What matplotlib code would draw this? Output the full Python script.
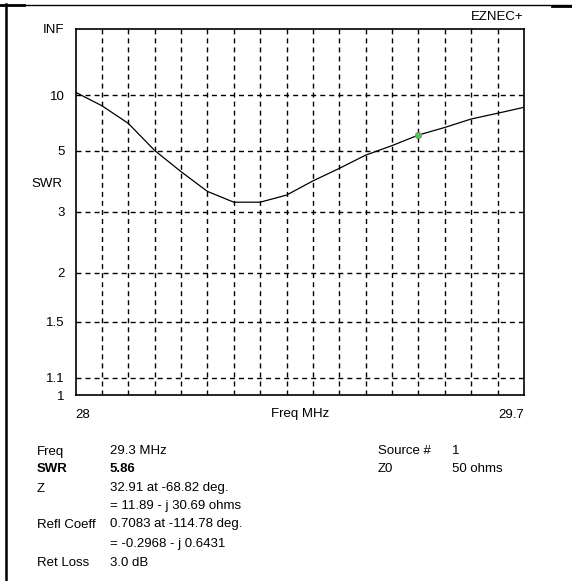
import numpy as np
import matplotlib
matplotlib.use("Agg")
import matplotlib.pyplot as plt
from matplotlib.lines import Line2D

plt.rcParams['font.family'] = ['Liberation Sans', 'DejaVu Sans']

freq_mhz = [28.0, 28.1, 28.2, 28.3, 28.4, 28.5, 28.6, 28.7, 28.8,
            28.9, 29.0, 29.1, 29.2, 29.3, 29.4, 29.5, 29.6, 29.7]
swr = [10.5, 8.49, 6.73, 5.01, 4.12, 3.50, 3.22, 3.22, 3.40,
       3.81, 4.24, 4.79, 5.26, 5.88, 6.41, 7.10, 7.65, 8.30]

swr_ticks = [1.1, 1.5, 2, 3, 5, 10]
swr_tick_labels = ["1.1", "1.5", "2", "3", "5", "10"]
freq_grid = [28.1, 28.2, 28.3, 28.4, 28.5, 28.6, 28.7, 28.8, 28.9,
             29.0, 29.1, 29.2, 29.3, 29.4, 29.5, 29.6]

cursor_freq = 29.3
cursor_swr = 5.86

info_left = [("Freq", "29.3 MHz", False),
             ("SWR", "5.86", True),
             ("Z", "32.91 at -68.82 deg.", False),
             ("", "= 11.89 - j 30.69 ohms", False),
             ("Refl Coeff", "0.7083 at -114.78 deg.", False),
             ("", "= -0.2968 - j 0.6431", False),
             ("Ret Loss", "3.0 dB", False)]
info_right = [("Source #", "1"), ("Z0", "50 ohms")]


def rho(s):
    # EZNEC plots SWR on a reflection coefficient scale
    s = np.asarray(s, dtype=float)
    return (s - 1) / (s + 1)


W, H = 572, 581


def fx(x):
    return x / W


def fy(y):
    return 1 - y / H


FS = 9.5
fig = plt.figure(figsize=(W / 100, H / 100), dpi=100)
ax = fig.add_axes([fx(75.5), fy(395), (524 - 75.5) / W, (395 - 28.5) / H])

ax.plot(freq_mhz, rho(swr), color='black', lw=0.9, zorder=3)
ax.plot(cursor_freq, rho(cursor_swr), marker='o', ms=4.5, color='#33dd33',
        mec='#cc55cc', mew=0.6, zorder=4)

for f in freq_grid:
    ax.axvline(f, color='black', lw=1.0, dashes=(3.6, 2.9), zorder=1)
for s in swr_ticks:
    ax.axhline(float(rho(s)), color='black', lw=1.0, dashes=(3.6, 2.9), zorder=1)

ax.set_xlim(28.0, 29.7)
ax.set_ylim(0, 1)
ax.set_yticks([0] + list(rho(swr_ticks)) + [1])
ax.set_yticklabels(["1"] + swr_tick_labels + ["INF"], fontsize=FS)
ax.set_xticks([28.0, 29.7])
ax.set_xticklabels(["28", "29.7"], fontsize=FS)
xl = ax.get_xticklabels()
xl[0].set_ha('left')
xl[1].set_ha('right')
ax.tick_params(axis='both', length=0, colors='black')
ax.tick_params(axis='y', pad=8)
ax.tick_params(axis='x', pad=10)
for sp in ax.spines.values():
    sp.set_linewidth(1.2)

fig.text(fx(300), fy(417.5), "Freq MHz", fontsize=FS, ha='center', va='baseline')
fig.text(fx(62), fy(186.5), "SWR", fontsize=FS, ha='right', va='baseline')
fig.text(fx(524), fy(19.5), "EZNEC+", fontsize=FS, ha='right', va='baseline')

ys = [450, 468, 487, 505, 523, 542, 561]
for (lab, val, bold), y in zip(info_left, ys):
    w = 'bold' if bold else 'normal'
    fig.text(fx(37), fy(y + 4.5), lab, fontsize=FS, fontweight=w, va='baseline')
    fig.text(fx(110), fy(y + 4.5), val, fontsize=FS, fontweight=w, va='baseline')
for (lab, val), y in zip(info_right, [450, 468]):
    fig.text(fx(378), fy(y + 4.5), lab, fontsize=FS, va='baseline')
    fig.text(fx(452), fy(y + 4.5), val, fontsize=FS, va='baseline')

# table cell borders around the screenshot
fig.add_artist(Line2D([0, 1], [fy(4.5), fy(4.5)], transform=fig.transFigure,
                      color='black', lw=1.0))
fig.add_artist(Line2D([0, fx(24)], [fy(5), fy(5)], transform=fig.transFigure,
                      color='black', lw=2.0))
fig.add_artist(Line2D([fx(552), 1], [fy(5.5), fy(5.5)], transform=fig.transFigure,
                      color='black', lw=2.0))
fig.add_artist(Line2D([fx(5.5), fx(5.5)], [fy(4), 0], transform=fig.transFigure,
                      color='black', lw=1.8))

fig.savefig("out.png", dpi=100)
